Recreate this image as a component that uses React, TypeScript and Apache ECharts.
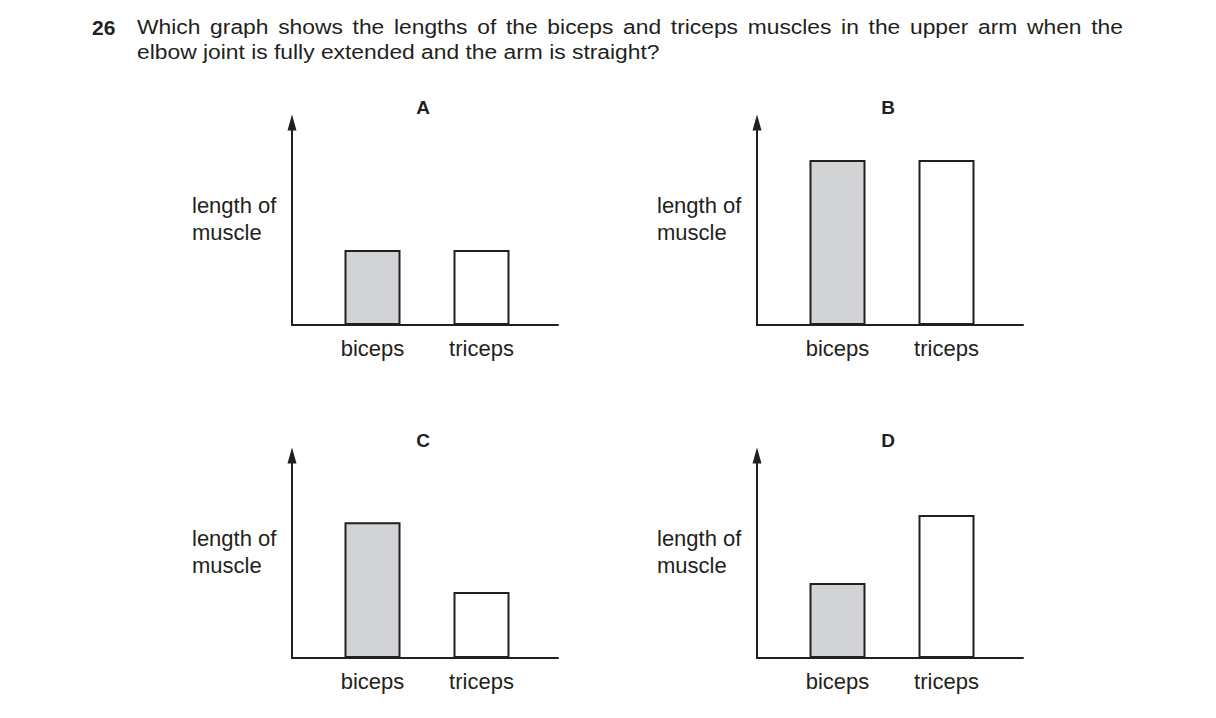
import { useEffect, useRef } from "react";
import * as echarts from "echarts";

// ---- data ----
const questionNumber = "26";
const questionLine1 =
  "Which graph shows the lengths of the biceps and triceps muscles in the upper arm when the";
const questionLine2 = "elbow joint is fully extended and the arm is straight?";
const panelLetters = ["A", "B", "C", "D"];
const muscles = ["biceps", "triceps"];
const bicepsLength = [3.7, 8.15, 6.7, 3.7];
const tricepsLength = [3.7, 8.15, 3.26, 7.06];
const yAxisName = "length of\nmuscle";

// ---- style ----
const INK = "#231f20";
const GREY = "#d1d3d4";
const FONT = "'Liberation Sans', Arial, Helvetica, sans-serif";
const Q_SCALE = 1.087;

const frameLeft = [292, 757, 292, 757];
const frameTop = [122.5, 122.5, 455.5, 455.5];
const frameW = 266;
const frameH = 202.5;
const barOffset = 26;
const barGridW = 218;

function justifyWords(line: string, x0: number, x1: number, font: string, scale: number) {
  const words = line.split(" ");
  const c = document.createElement("canvas").getContext("2d")!;
  c.font = font;
  const widths = words.map((w) => c.measureText(w).width * scale);
  const total = widths.reduce((a, b) => a + b, 0);
  const gap = (x1 - x0 - total) / (words.length - 1);
  let x = x0;
  return words.map((w, i) => {
    const item = { word: w, x };
    x += widths[i] + gap;
    return item;
  });
}

export default function App() {
  const ref = useRef<HTMLDivElement>(null);
  useEffect(() => {
    if (!ref.current) return;
    const chart = echarts.init(ref.current, undefined, { renderer: "svg" });

    const grid: any[] = [];
    const xAxis: any[] = [];
    const yAxis: any[] = [];
    const series: any[] = [];
    const graphic: any[] = [];

    panelLetters.forEach((letter, i) => {
      grid.push({ left: frameLeft[i], top: frameTop[i], width: frameW, height: frameH });
      grid.push({
        left: frameLeft[i] + barOffset,
        top: frameTop[i],
        width: barGridW,
        height: frameH,
      });
      const fg = 2 * i;
      const bg = 2 * i + 1;
      xAxis.push({
        type: "value",
        gridIndex: fg,
        min: 0,
        max: 1,
        axisLine: { show: true, lineStyle: { color: INK, width: 2 } },
        axisTick: { show: false },
        axisLabel: { show: false },
        splitLine: { show: false },
      });
      yAxis.push({
        type: "value",
        gridIndex: fg,
        min: 0,
        max: 10,
        axisLine: {
          show: true,
          symbol: ["none", "triangle"],
          symbolSize: [9, 16],
          lineStyle: { color: INK, width: 2 },
        },
        axisTick: { show: false },
        axisLabel: { show: false },
        splitLine: { show: false },
      });
      xAxis.push({
        type: "category",
        gridIndex: bg,
        data: muscles,
        axisLine: { show: false },
        axisTick: { show: false },
        axisLabel: { fontSize: 22, color: INK, fontFamily: FONT, margin: 12 },
      });
      yAxis.push({ type: "value", gridIndex: bg, min: 0, max: 10, show: false });
      series.push({
        type: "bar",
        xAxisIndex: bg,
        yAxisIndex: bg,
        barWidth: 56,
        itemStyle: { borderColor: INK, borderWidth: 2 },
        data: [
          { value: bicepsLength[i], itemStyle: { color: GREY } },
          { value: tricepsLength[i], itemStyle: { color: "#ffffff" } },
        ],
      });
      graphic.push({
        type: "text",
        x: frameLeft[i] + 131,
        y: frameTop[i] - 15.5,
        style: {
          text: letter,
          font: `bold 19px ${FONT}`,
          fill: INK,
          align: "center",
          verticalAlign: "middle",
        },
      });
      graphic.push({
        type: "text",
        x: frameLeft[i] - 100,
        y: frameTop[i] + 96,
        style: {
          text: yAxisName,
          font: `22px ${FONT}`,
          lineHeight: 27,
          fill: INK,
          align: "left",
          verticalAlign: "middle",
        },
      });
    });

    const qFont = `21px ${FONT}`;
    graphic.push({
      type: "text",
      x: 92,
      y: 27,
      style: { text: questionNumber, font: `bold 21px ${FONT}`, fill: INK, verticalAlign: "middle" },
    });
    justifyWords(questionLine1, 137, 1123, qFont, Q_SCALE).forEach((w) => {
      graphic.push({
        type: "text",
        x: w.x,
        y: 27,
        scaleX: Q_SCALE,
        style: { text: w.word, font: qFont, fill: INK, verticalAlign: "middle" },
      });
    });
    graphic.push({
      type: "text",
      x: 137,
      y: 52,
      scaleX: Q_SCALE,
      style: { text: questionLine2, font: qFont, fill: INK, verticalAlign: "middle" },
    });

    chart.setOption({
      animation: false,
      backgroundColor: "#ffffff",
      grid,
      xAxis,
      yAxis,
      series,
      graphic,
    });
    return () => chart.dispose();
  }, []);
  return (
    <div
      ref={ref}
      style={{ position: "fixed", left: 0, top: 0, width: 1216, height: 718 }}
    />
  );
}
